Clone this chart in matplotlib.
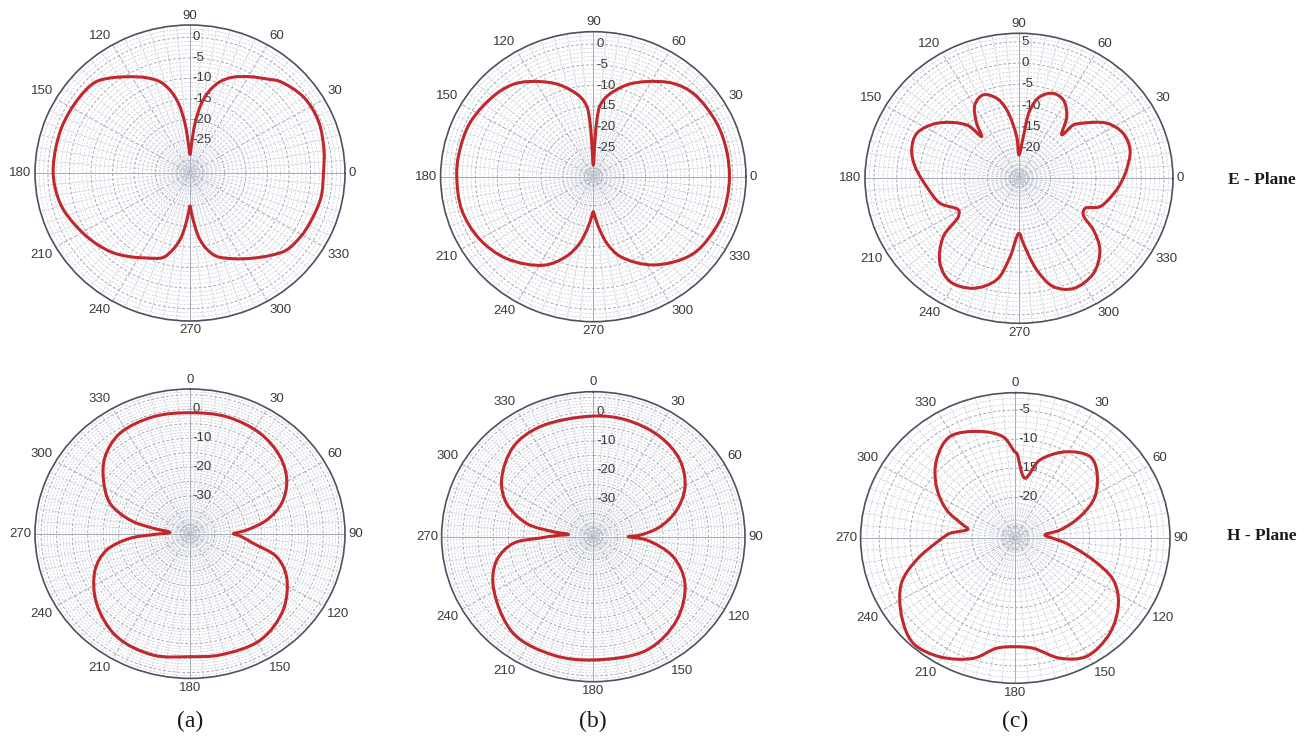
import numpy as np
import matplotlib
matplotlib.use("Agg")
import matplotlib.pyplot as plt
from matplotlib.path import Path
from matplotlib.patches import PathPatch

plt.rcParams["font.family"] = ["Liberation Sans", "DejaVu Sans"]

# ---------------------------------------------------------------
# Pattern data (angle in degrees, gain in dB)
# ---------------------------------------------------------------
E_A_THETA = [0, 10, 23, 35, 47, 51, 59, 67, 72.5, 77, 81, 84.5, 87, 90,
             93, 95.5, 99, 103, 107.5, 114, 122, 129, 135, 145, 160, 177, 187,
             197, 213, 226, 235, 244, 253, 258, 262, 265, 268, 270, 272, 275,
             278, 282, 287, 296, 305, 313, 320, 329, 337, 349, 360]
E_A_DB = [-2.0, -1.4, -0.6, -0.8, -2.5, -3.7, -5.7, -7.7, -9.7, -12.3, -15.8,
          -20.9, -25.8, -28.5, -25.8, -20.9, -15.8, -12.3, -9.7, -7.6, -5.4,
          -3.3, -1.8, -1.4, -1.2, -1.2, -1.5, -2.3, -4.5, -6.4, -8.2, -10.0,
          -11.5, -14.0, -16.7, -20.0, -23.3, -25.0, -23.3, -20.0, -16.7, -14.0,
          -11.8, -9.8, -7.7, -5.6, -3.8, -3.0, -2.6, -2.0, -2.0]

E_B_THETA = [0, 12, 25, 41, 51, 62, 71, 81, 85, 86.5, 87.5, 90, 92.5, 93.5, 95,
             99, 109, 118, 128, 138, 155, 170, 180, 195, 210, 225, 242, 252,
             259, 264.5, 268, 270, 272, 275.5, 281, 288, 303, 321, 340, 350, 360]
E_B_DB = [-0.8, -0.8, -0.9, -1.5, -3.0, -6.0, -8.6, -12.4, -15.0, -18.0, -23.0,
          -29.2, -23.0, -18.0, -15.0, -12.4, -8.6, -6.0, -3.4, -2.1, -0.9, -0.7,
          -0.7, -0.8, -1.9, -4.0, -7.8, -11.7, -15.6, -19.9, -22.5, -23.6,
          -22.5, -19.9, -15.6, -11.7, -6.6, -2.5, -1.1, -0.9, -0.8]

E_C_THETA = [0, 4.7, 15, 24.6, 33.7, 43.7, 46.2, 47.2, 53.9, 61.9, 69.2, 76.4,
             81.4, 84.4, 90, 93, 99.6, 104.7, 112, 119.5, 126, 130.1, 132.7,
             144.7, 155, 164.4, 173.2, 185.4, 198.5, 209, 213.8, 219.3, 228.8,
             237.9, 248.6, 258.3, 263.9, 270, 273.6, 280.3, 286.6, 294.9, 306.4,
             316.8, 323.6, 328.8, 334.2, 339.7, 352.8, 360]
E_C_DB = [-4.0, -3.2, -1.6, -1.7, -3.7, -8.4, -9.7, -13.1, -9.1, -6.2, -5.7,
          -7.3, -10.8, -17.2, -21.5, -17.2, -10.7, -7.6, -5.9, -7.2, -11.1,
          -14.2, -10.0, -4.7, -2.1, -2.4, -3.9, -6.5, -8.6, -11.7, -10.9, -5.4,
          -0.5, 1.6, 0.7, -2.7, -8.5, -14.1, -11.7, -5.2, -0.5, 1.5, 0.7, -2.5,
          -6.6, -10.4, -10.8, -7.9, -5.3, -4.0]

H_A_THETA = [0, 16.3, 33.1, 47.5, 59.3, 70.4, 79.2, 86.1, 88, 90, 92.5, 99.3,
             105.9, 115.5, 131.3, 148.4, 167, 180, 195.8, 213.6, 231.3, 247.7,
             258.1, 265.3, 268.5, 274, 279, 283.7, 292.1, 303.6, 314.2, 326.9,
             343.7, 360]
H_A_DB = [-1.2, -0.9, -1.6, -3.6, -6.7, -11.6, -17.8, -24.7, -27.0, -29.0,
          -27.0, -22.3, -14.0, -8.5, -3.0, 0.2, 0.0, -0.5, 0.6, -0.3, -4.4,
          -9.9, -15.5, -23.6, -31.0, -36.5, -31.0, -23.1, -15.2, -9.5, -4.8,
          -1.6, -0.9, -1.2]

H_B_THETA = [0, 15.3, 32.5, 47.2, 60.3, 71.5, 81.1, 88, 90, 93.7, 104.7, 118,
             136.3, 155.8, 180, 197.9, 218.3, 242.4, 255.8, 265, 268.5, 272,
             275.5, 277.4, 281.8, 291.9, 302.9, 319.7, 335.1, 360]
H_B_DB = [-1.4, -1.3, -2.1, -4.1, -8.2, -14.0, -20.7, -27.6, -31.5, -25.4,
          -15.8, -8.8, -3.2, -0.1, -0.5, -0.1, -0.5, -5.8, -10.2, -16.5, -25.4,
          -31.0, -34.8, -29.7, -20.5, -12.2, -7.0, -2.3, -1.2, -1.4]

H_C_THETA = [0, 0.9, 8.6, 16.5, 29.2, 40.8, 48.3, 61.1, 70.6, 79.2, 83.8, 90.5,
             96.4, 106.7, 114.5, 124, 137, 150.6, 160.8, 171.3, 180, 189, 198.2,
             210.8, 222.3, 233.6, 247, 256.7, 268.4, 274.3, 281.2, 284.8, 293.5,
             304.7, 316.5, 328.8, 342.7, 353.6, 360]
H_C_DB = [-12.3, -12.4, -16.6, -13.0, -10.0, -8.5, -9.4, -12.3, -15.9, -19.6,
          -22.2, -20.9, -18.7, -13.9, -9.6, -6.9, -4.6, -3.6, -5.1, -7.8, -8.3,
          -7.8, -5.2, -3.2, -2.5, -4.2, -7.0, -10.6, -14.8, -16.4, -19.2, -18.3,
          -14.9, -11.5, -8.5, -6.6, -7.8, -9.5, -12.3]

# radial tick labels for each panel
E_AB_TICKS = [0, -5, -10, -15, -20, -25]
E_C_TICKS = [5, 0, -5, -10, -15, -20]
H_AB_TICKS = [0, -10, -20, -30]
H_C_TICKS = [-5, -10, -15, -20]
ANGLE_TICKS = list(range(0, 360, 30))

# ---------------------------------------------------------------
# panel layout (pixel centre / radii in the 1310x742 canvas) + scale
# ---------------------------------------------------------------
W, H = 1310, 742
PANELS = [
    # cx, cy, rx, ry, rmin, rmax, plane, theta, db, ticks
    (190.0, 173.0, 155.0, 148.0, -33, 3, "E", E_A_THETA, E_A_DB, E_AB_TICKS),
    (593.3, 176.7, 152.7, 145.0, -32, 3, "E", E_B_THETA, E_B_DB, E_AB_TICKS),
    (1019.0, 178.3, 154.0, 145.0, -27, 7, "E", E_C_THETA, E_C_DB, E_C_TICKS),
    (190.0, 533.7, 155.0, 144.7, -43, 7, "H", H_A_THETA, H_A_DB, H_AB_TICKS),
    (593.3, 536.7, 151.7, 145.0, -43, 7, "H", H_B_THETA, H_B_DB, H_AB_TICKS),
    (1015.3, 538.0, 154.7, 145.3, -27, -2, "H", H_C_THETA, H_C_DB, H_C_TICKS),
]

CURVE = "#c0282c"
GRID_MINOR = "#c4c8d4"
GRID_MAJOR = "#a4a9b6"
EDGE = "#4d5260"
LABEL = "#3a3a3a"


def smooth_closed_path(pts):
    """Centripetal Catmull-Rom through closed list of points -> Bezier path."""
    n = len(pts)
    verts = [pts[0]]
    codes = [Path.MOVETO]
    for i in range(n):
        p0, p1, p2, p3 = pts[i - 1], pts[i], pts[(i + 1) % n], pts[(i + 2) % n]
        t01 = max(np.hypot(*(p1 - p0)) ** 0.5, 1e-6)
        t12 = max(np.hypot(*(p2 - p1)) ** 0.5, 1e-6)
        t23 = max(np.hypot(*(p3 - p2)) ** 0.5, 1e-6)
        m1 = ((p1 - p0) / t01 - (p2 - p0) / (t01 + t12) + (p2 - p1) / t12) * t12
        m2 = ((p2 - p1) / t12 - (p3 - p1) / (t12 + t23) + (p3 - p2) / t23) * t12
        verts += [p1 + m1 / 3, p2 - m2 / 3, p2]
        codes += [Path.CURVE4] * 3
    return Path(np.array(verts), codes)


fig = plt.figure(figsize=(W / 100, H / 100), dpi=100)
fig.patch.set_facecolor("white")

full = np.linspace(0, 2 * np.pi, 361)

for cx, cy, rx, ry, rmin, rmax, plane, th, db, ticks in PANELS:
    ax = fig.add_axes([(cx - rx) / W, (H - cy - ry) / H, 2 * rx / W, 2 * ry / H],
                      projection="polar")
    ax.set_aspect("auto")
    if plane == "E":
        ax.set_theta_zero_location("E")
        ax.set_theta_direction(1)
        label_dir = np.pi / 2
    else:
        ax.set_theta_zero_location("N")
        ax.set_theta_direction(-1)
        label_dir = 0.0
    ax.set_ylim(rmin, rmax)
    ax.grid(False)

    # dense dashed mesh: spokes every 5 deg, rings every 1 dB
    for a in range(0, 360, 5):
        major = a % 30 == 0
        ls = "-" if a % 90 == 0 else (0, (4, 2))
        ax.plot([np.deg2rad(a)] * 2, [rmin, rmax], ls=ls,
                color=GRID_MAJOR if major else GRID_MINOR,
                lw=0.7 if major else 0.5, zorder=1)
    for r in range(int(np.ceil(rmin)) + 1, int(np.floor(rmax)) + 1):
        major = r % 5 == 0
        ax.plot(full, np.full_like(full, r), ls=(0, (3, 2)),
                color=GRID_MAJOR if major else GRID_MINOR,
                lw=0.7 if major else 0.5, zorder=1)

    ax.spines["polar"].set_color(EDGE)
    ax.spines["polar"].set_linewidth(1.2)
    ax.set_xticks([])
    ax.set_yticks([])

    # angle labels just outside the rim, aligned by their outer edge
    for a in ANGLE_TICKS:
        s = np.deg2rad(a if plane == "E" else 90 - a)
        c, n = np.cos(s), np.sin(s)
        ha = "left" if c > 0.2 else ("right" if c < -0.2 else "center")
        va = "bottom" if n > 0.2 else ("top" if n < -0.2 else "center")
        ax.annotate(str(a), xy=(np.deg2rad(a), rmax),
                    xytext=(2.5 * c, 2.5 * n), textcoords="offset points",
                    ha=ha, va=va, fontsize=9.5, color=LABEL,
                    annotation_clip=False)

    for t in ticks:
        ax.annotate(str(t), xy=(label_dir, t), xytext=(2, 0),
                    textcoords="offset points", ha="left", va="center",
                    fontsize=9.5, color=LABEL, zorder=2)

    # map the read points through the polar scale, then draw a smooth loop
    pts = np.column_stack([np.deg2rad(th[:-1]), db[:-1]])
    disp = ax.transData.transform(pts)
    axpts = ax.transAxes.inverted().transform(disp)
    path = smooth_closed_path(list(axpts))
    ax.add_patch(PathPatch(path, transform=ax.transAxes, fill=False,
                           edgecolor=CURVE, lw=2.2, zorder=3,
                           joinstyle="round"))

serif = ["Liberation Serif", "DejaVu Serif"]
fig.text(1262 / W, 1 - 180 / H, "E - Plane", ha="center", va="center",
         fontsize=12.5, fontweight="bold", family=serif, color="#1a1a1a")
fig.text(1262 / W, 1 - 536 / H, "H - Plane", ha="center", va="center",
         fontsize=12.5, fontweight="bold", family=serif, color="#1a1a1a")
for x, s in [(190, "(a)"), (593, "(b)"), (1015, "(c)")]:
    fig.text(x / W, 1 - 721 / H, s, ha="center", va="center",
             fontsize=17, family=serif, color="#1a1a1a")

fig.savefig("out.png", dpi=100)
